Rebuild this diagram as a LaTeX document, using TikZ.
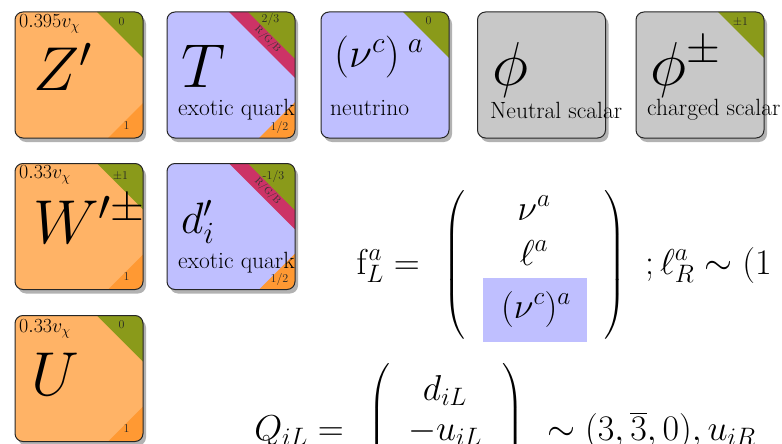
\RequirePackage{fix-cm}
\documentclass[tikz,border=0pt]{standalone}
\usepackage{amsmath}
\usetikzlibrary{positioning,shadows}
\definecolor{ptorange}{HTML}{FFB366}
\definecolor{ptlav}   {HTML}{BFBFFF}
\definecolor{ptgrey}  {HTML}{C8C8C8}
\definecolor{ptgreen} {HTML}{8A9A1A}
\definecolor{ptpink}  {HTML}{CC3366}
\definecolor{ptamber} {HTML}{FF9933}
\tikzset{
  ptcard/.style={draw=black!85, line width=1pt, rounded corners=8pt, inner sep=0pt,
                 minimum width=128pt, minimum height=126pt,
                 drop shadow={shadow xshift=3pt, shadow yshift=-4pt, fill=black, opacity=0.3}},
  ptcorners/.style n args={3}{path picture={
      \fill[ptpink, sharp corners]  (path picture bounding box.north east) -- ++(-#2,0pt) -- ++(#2,-#2) -- cycle;
      \fill[ptgreen, sharp corners] (path picture bounding box.north east) -- ++(-#1,0pt) -- ++(#1,-#1) -- cycle;
      \fill[ptamber, sharp corners] (path picture bounding box.south east) -- ++(-#3,0pt) -- ++(#3,#3) -- cycle;}},
  ptsym/.style={font=\fontsize{62}{70}\selectfont, inner sep=0pt, anchor=base west},
  ptname/.style={font=\fontsize{23.5}{26}\selectfont, inner sep=0pt, anchor=base west},
  ptmass/.style={font=\fontsize{20}{22}\selectfont, inner sep=0pt, anchor=base west},
  ptcharge/.style={font=\fontsize{12}{14}\selectfont, inner sep=0pt, text=black!85},
  ptcolour/.style={font=\fontsize{10}{11}\selectfont, inner sep=0pt, rotate=-45, text=black!80},
  eqtext/.style={font=\fontsize{36}{42}\selectfont, inner sep=0pt},
}

\begin{document}
\begin{tikzpicture}[x=1pt,y=-1pt]
  \useasboundingbox (0,0) rectangle (782,444);
  \clip (0,0) rectangle (782,444);
  % cards
  \node[ptcard, fill=ptorange, ptcorners={46pt}{0pt}{35pt}] (Zp) at (79,75) {};
  \node[ptcard, fill=ptlav, ptcorners={47pt}{66pt}{36pt}] (Tq) at (231,75) {};
  \node[ptcard, fill=ptlav, ptcorners={46pt}{0pt}{0pt}] (nuc) at (385,75) {};
  \node[ptcard, fill=ptgrey] (phin) at (541.5,75) {};
  \node[ptcard, fill=ptgrey, ptcorners={46pt}{0pt}{0pt}] (phic) at (700,75) {};
  \node[ptcard, fill=ptorange, ptcorners={46pt}{0pt}{35pt}] (Wp) at (79,226.5) {};
  \node[ptcard, fill=ptlav, ptcorners={47pt}{66pt}{36pt}] (dq) at (231,226.5) {};
  \node[ptcard, fill=ptorange, ptcorners={46pt}{0pt}{35pt}] (Uz) at (79,378.5) {};
  % Z'
  \node[ptmass] (Zp-m) at (19,28) {$0.395v_\chi$};
  \node[ptsym] (Zp-s) at (33,90) {$Z'$};
  \node[ptcharge] (Zp-q) at ([xshift=-22pt,yshift=-10pt]Zp.north east) {0};
  \node[ptcharge] (Zp-j) at ([xshift=-17pt,yshift=13pt]Zp.south east) {1};
  % T
  \node[ptsym] (Tq-s) at (181,88) {$T$};
  \node[ptname] (Tq-n) at (178,115) {exotic quark};
  \node[ptcolour] (Tq-c) at ([xshift=-28pt,yshift=-28pt]Tq.north east) {R/G/B};
  \node[ptcharge] (Tq-q) at ([xshift=-25pt,yshift=-8pt]Tq.north east) {2/3};
  \node[ptcharge] (Tq-j) at ([xshift=-16pt,yshift=11pt]Tq.south east) {1/2};
  % nu^c
  \node[ptsym, font=\fontsize{42}{46}\selectfont] (nuc-s) at (334,68) {$(\nu^c)^{\hspace{8pt}a}$};
  \node[ptname] (nuc-n) at (330,115) {neutrino};
  \node[ptcharge] (nuc-q) at ([xshift=-21pt,yshift=-9pt]nuc.north east) {0};
  % scalars
  \node[ptsym] (phin-s) at (492,85) {$\phi$};
  \node[ptname] (phin-n) at (490,118) {Neutral scalar};
  \node[ptsym] (phic-s) at (650,85) {$\phi^\pm$};
  \node[ptname] (phic-n) at (647,115) {charged scalar};
  \node[ptcharge] (phic-q) at ([xshift=-24pt,yshift=-11pt]phic.north east) {$\pm$1};
  % W'
  \node[ptmass] (Wp-m) at (19,178) {$0.33v_\chi$};
  \node[ptsym] (Wp-s) at (33,243) {$W'^{\pm}$};
  \node[ptcharge] (Wp-q) at ([xshift=-23pt,yshift=-13pt]Wp.north east) {$\pm$1};
  \node[ptcharge] (Wp-j) at ([xshift=-17pt,yshift=13pt]Wp.south east) {1};
  % d'
  \node[ptsym, font=\fontsize{44}{50}\selectfont] (dq-s) at (181,233) {$d'_i$};
  \node[ptname] (dq-n) at (178,268) {exotic quark};
  \node[ptcolour] (dq-c) at ([xshift=-28pt,yshift=-28pt]dq.north east) {R/G/B};
  \node[ptcharge] (dq-q) at ([xshift=-22pt,yshift=-13pt]dq.north east) {-1/3};
  \node[ptcharge] (dq-j) at ([xshift=-16pt,yshift=11pt]dq.south east) {1/2};
  % U
  \node[ptmass] (Uz-m) at (19,332) {$0.33v_\chi$};
  \node[ptsym] (Uz-s) at (31,395) {$U$};
  \node[ptcharge] (Uz-q) at ([xshift=-22pt,yshift=-10pt]Uz.north east) {0};
  \node[ptcharge] (Uz-j) at ([xshift=-17pt,yshift=13pt]Uz.south east) {1};
  % lepton triplet
  \node[eqtext, anchor=base east] (fL) at (420,274) {$\mathrm{f}^a_L =$};
  \node[eqtext] (flpar) at (455,265) {$\left(\vcenter{\hbox{\rule{0pt}{150pt}}}\right.$};
  \node[eqtext, anchor=base] (nua) at (534,220) {$\nu^a$};
  \node[eqtext, anchor=base] (ella) at (534,265) {$\ell^a$};
  \node[fill=ptlav, minimum width=104pt, minimum height=64pt] (hlbox) at (535,310) {};
  \node[eqtext, anchor=base] (nuca) at (536,318) {$(\nu^c)^a$};
  \node[eqtext] (frpar) at (615,265) {$\left.\vcenter{\hbox{\rule{0pt}{150pt}}}\right)$};
  \node[eqtext, anchor=base west] (fR) at (645,274) {$;\ell^a_R \sim (1$};
  % quark triplet
  \node[eqtext, anchor=base east] (QL) at (344,440) {$Q_{iL} =$};
  \node[eqtext] (qlpar) at (380,431) {$\left(\vcenter{\hbox{\rule{0pt}{134pt}}}\right.$};
  \node[eqtext, anchor=base] (diL) at (445,400) {$d_{iL}$};
  \node[eqtext, anchor=base] (uiL) at (445,440) {$-u_{iL}$};
  \node[eqtext] (qrpar) at (513,431) {$\left.\vcenter{\hbox{\rule{0pt}{134pt}}}\right)$};
  \node[eqtext, anchor=base west] (QR) at (547,440) {$\sim (3,\overline{3},0), u_{iR}$};
\end{tikzpicture}
\end{document}
